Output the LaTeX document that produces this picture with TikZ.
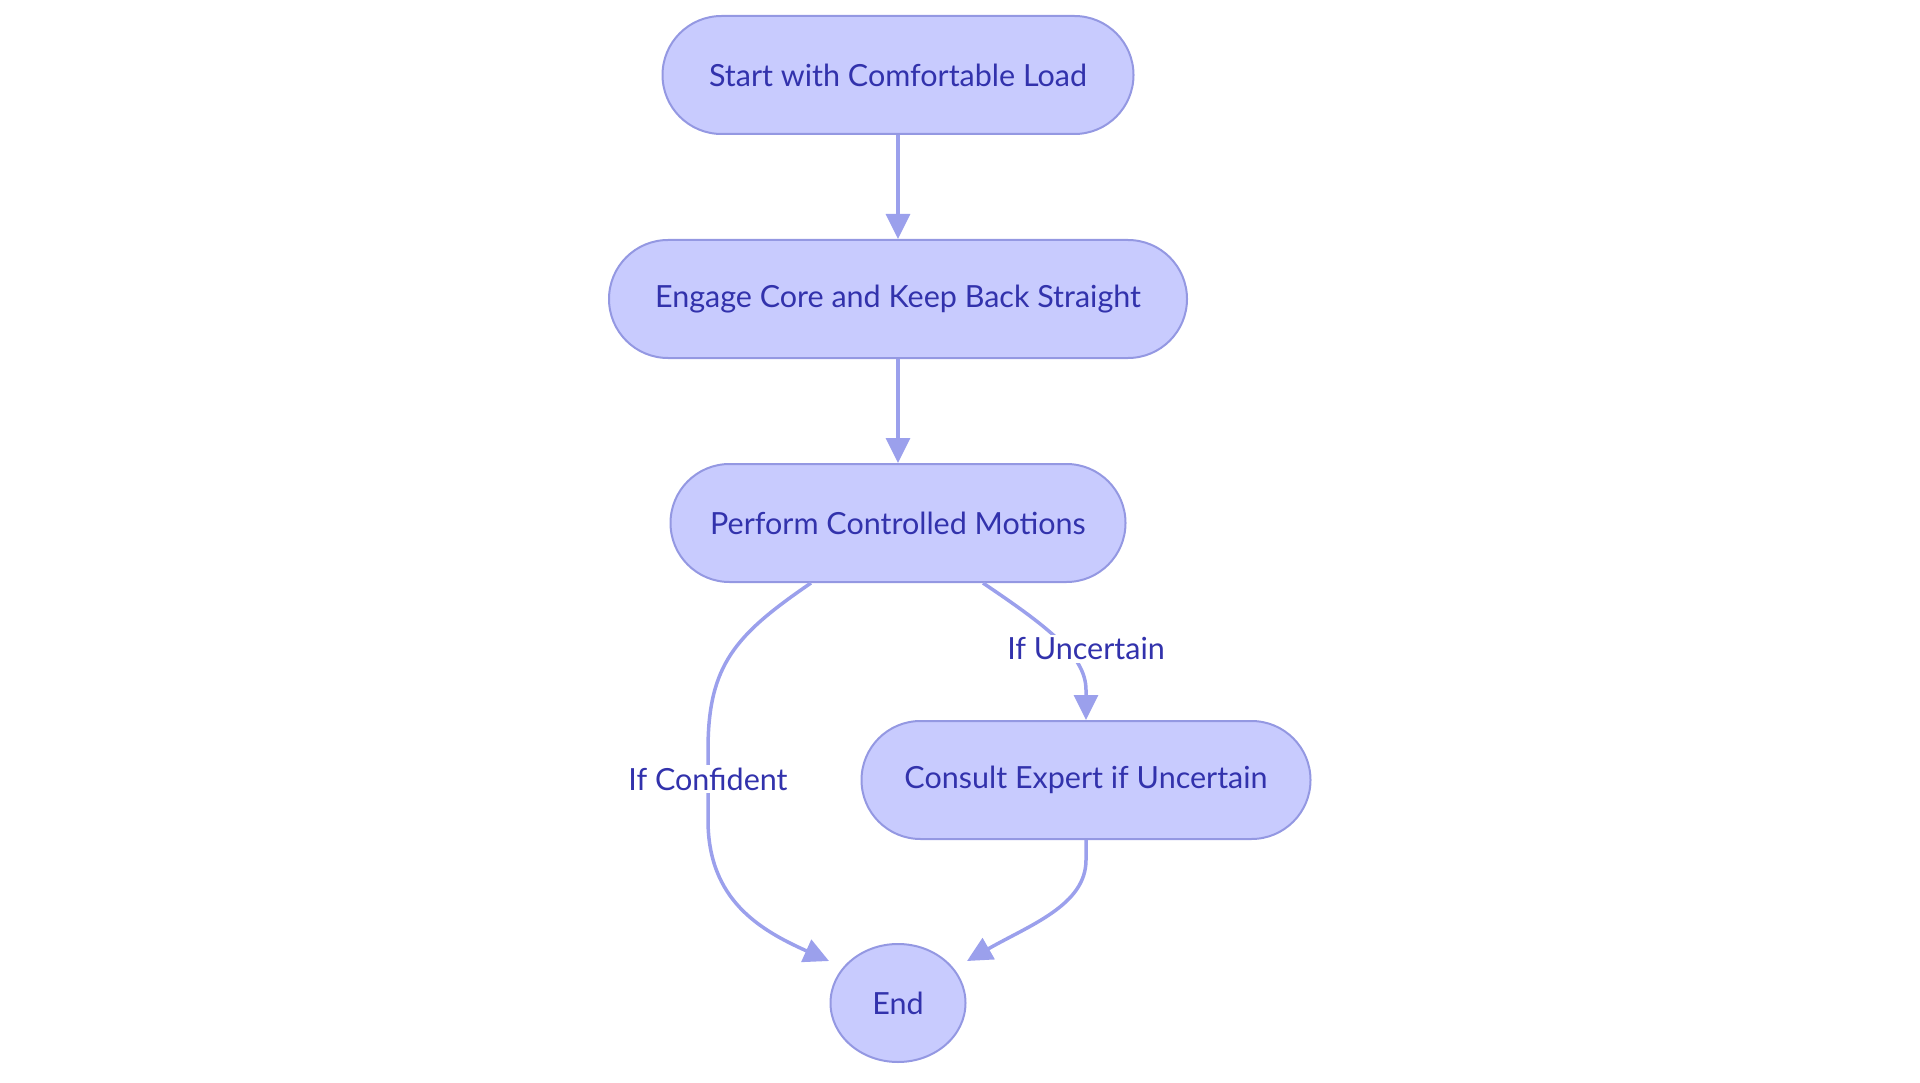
\documentclass[tikz,border=0pt]{standalone}
\usepackage{fontspec}
\setmainfont{Lato}
\usepackage{tikz}
\usetikzlibrary{arrows.meta,shapes.geometric,positioning,calc}
\definecolor{boxfill}{RGB}{200,203,254}
\definecolor{boxline}{RGB}{148,152,226}
\definecolor{linkcol}{RGB}{155,160,236}
\definecolor{txtcol}{RGB}{50,50,172}

\begin{document}
\begin{tikzpicture}[x=1pt,y=-1pt,
    pill/.style={draw=boxline,fill=boxfill,line width=2pt,rounded corners=59pt,
        minimum height=118pt,text=txtcol,font=\fontsize{30.5}{36}\selectfont},
    endnode/.style={ellipse,draw=boxline,fill=boxfill,line width=2pt,inner sep=0pt,
        minimum width=135pt,minimum height=118pt,text=txtcol,font=\fontsize{30.5}{36}\selectfont},
    link/.style={draw=linkcol,line width=3.5pt,-{Triangle[length=25pt,width=24pt]}},
    lbl/.style={fill=white,text=txtcol,inner sep=3pt,font=\fontsize{30.5}{36}\selectfont}]
            \useasboundingbox (0,0) rectangle (1920,1083);
            \node[pill,minimum width=471pt] (load) at (898,75) {Start with Comfortable Load};
            \node[pill,minimum width=578pt] (core) at (898,299) {Engage Core and Keep Back Straight};
            \node[pill,minimum width=455pt] (motion) at (898,523) {Perform Controlled Motions};
            \node[pill,minimum width=449pt] (expert) at (1086,780) {Consult Expert if Uncertain};
            \node[endnode] (finish) at (898,1003) {End};
            \draw[link] (load) -- (core);
            \draw[link] (core) -- (motion);
            % left branch
            \draw[link] ([xshift=-87pt]motion.south) .. controls (735,635) and (708,665) .. (708,750)
                -- (708,820) .. controls (708,900) and (760,930) .. ([shift={(-69,-42)}]finish.center);
            \node[lbl] (conf) at (708,779) {If Confident};
            % right branch
            \draw[link] ([xshift=85pt]motion.south) .. controls (1045,625) and (1086,655) .. (1086,690)
                -- (expert.north);
            \node[lbl] (unc) at (1086,649) {If Uncertain};
            \draw[link] (expert.south) -- (1086,860) .. controls (1086,905) and (1030,925) .. ([shift={(69,-42)}]finish.center);
        \end{tikzpicture}
\end{document}
